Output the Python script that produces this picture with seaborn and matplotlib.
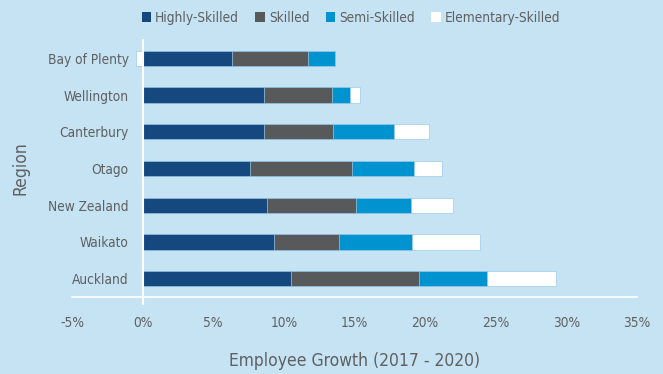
import numpy as np
import pandas as pd
import matplotlib
matplotlib.use("Agg")
import matplotlib.pyplot as plt
import seaborn as sns
from matplotlib.patches import Patch
from matplotlib.ticker import FixedLocator, PercentFormatter

regions = ["Bay of Plenty", "Wellington", "Canterbury", "Otago",
           "New Zealand", "Waikato", "Auckland"]
skill_levels = ["Highly-Skilled", "Skilled", "Semi-Skilled", "Elementary-Skilled"]

# Employee growth 2017-2020 (%) by skill level
highly_skilled = [6.3, 8.6, 8.6, 7.6, 8.8, 9.3, 10.5]
skilled = [5.4, 4.8, 4.9, 7.2, 6.3, 4.6, 9.1]
semi_skilled = [1.9, 1.3, 4.3, 4.4, 3.9, 5.2, 4.8]
elementary_skilled = [-0.5, 0.7, 2.5, 2.0, 3.0, 4.8, 4.9]

x_ticks = [-5, 0, 5, 10, 15, 20, 25, 30, 35]

colors = ["#15487f", "#58595b", "#0093d0", "#ffffff"]
bg = "#c5e3f3"
text_col = "#5f6062"

sns.set_theme(style="white")
plt.rcParams["font.family"] = ["DejaVu Sans"]
plt.rcParams["font.stretch"] = "condensed"
plt.rcParams["axes.unicode_minus"] = False

series = [highly_skilled, skilled, semi_skilled, elementary_skilled]
vals = np.array(series)
pos = np.where(vals > 0, vals, 0).cumsum(axis=0)
neg = np.where(vals < 0, vals, 0).cumsum(axis=0)

fig = plt.figure(figsize=(6.63, 3.74), dpi=100, facecolor=bg)
ax = fig.add_axes([72 / 663, 1 - 297 / 374, 565 / 663, 257 / 374])
ax.set_facecolor(bg)

# Stacked bars drawn as cumulative totals, outermost layer first
for i in range(len(series) - 1, -1, -1):
    for cum in (pos[i], neg[i]):
        df = pd.DataFrame({"region": regions, "value": cum})
        sns.barplot(data=df, x="value", y="region", order=regions,
                    color=colors[i], saturation=1, width=0.42,
                    edgecolor="#9ccbe8", linewidth=0.5, ax=ax, zorder=2)

ax.set_xlim(-5, 35)
ax.set_ylim(len(regions) - 0.5, -0.5)
ax.xaxis.set_major_locator(FixedLocator(x_ticks))
ax.xaxis.set_major_formatter(PercentFormatter(decimals=0))

for s in ["top", "right"]:
    ax.spines[s].set_visible(False)
ax.spines["left"].set_position(("data", 0))
ax.spines["left"].set_bounds(len(regions) - 0.3, -0.5)
ax.spines["left"].set_color("white")
ax.spines["left"].set_linewidth(1.5)
ax.spines["left"].set_zorder(3)
ax.spines["bottom"].set_color("white")
ax.spines["bottom"].set_linewidth(1.2)

ax.tick_params(axis="x", direction="in", length=5, width=1, color="white",
               labelsize=9.8, labelcolor=text_col, pad=14)
ax.tick_params(axis="y", which="major", length=0, labelsize=9.8,
               labelcolor=text_col, pad=10)
ax.yaxis.set_minor_locator(FixedLocator(np.arange(0.5, len(regions) - 1, 1.0)))
ax.tick_params(axis="y", which="minor", direction="in", length=4, width=1,
               color="white")

ax.set_xlabel("Employee Growth (2017 - 2020)", fontsize=12.5, color=text_col)
ax.xaxis.set_label_coords(0.5, -0.215)
ax.set_ylabel("Region", fontsize=12.5, color=text_col)
ax.yaxis.set_label_coords(-0.075, 0.5)

handles = [Patch(facecolor=c, edgecolor="none") for c in colors]
fig.legend(handles, skill_levels, loc="center", bbox_to_anchor=(351 / 663, 1 - 18 / 374),
           ncol=4, frameon=False, fontsize=9.8, labelcolor=text_col,
           handlelength=0.7, handleheight=0.7, handletextpad=0.3, columnspacing=1.2)

fig.savefig("out.png", dpi=100, facecolor=bg)
